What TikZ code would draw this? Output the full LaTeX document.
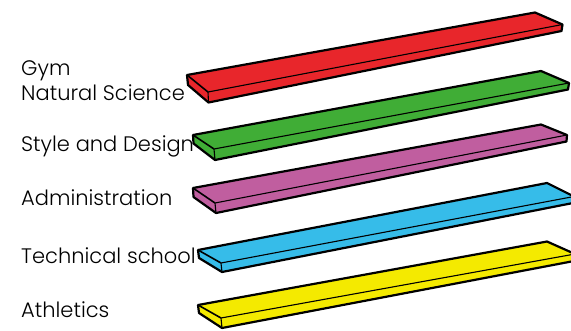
\documentclass[tikz,border=0pt]{standalone}
\usepackage{fontspec}
\setmainfont{Poppins}[UprightFont={* Light}]
\definecolor{slabred}{HTML}{E8262B}
\definecolor{slabgreen}{HTML}{40AD36}
\definecolor{slabpink}{HTML}{C05E9F}
\definecolor{slabcyan}{HTML}{36BCE9}
\definecolor{slabyellow}{HTML}{F4EA00}
% #1 colour, #2 back left, #3 back right, #4 front right, #5 front left, #6 front right low, #7 front left low, #8 back left low
\newcommand{\slab}[8]{%
\fill[#1] #2 -- #3 -- #4 -- #6 -- #7 -- #8 -- cycle;
\draw[line width=1.1pt] #5 -- #4;
\draw[line width=1.1pt] #5 -- #7;
\draw[line width=1.6pt] #2 -- #5;
\draw[line width=2.2pt, line join=round] #2 -- #3 -- #4 -- #6 -- #7 -- #8 -- cycle;
}
\tikzset{room/.style={anchor=base west, inner sep=0, font=\fontsize{21}{25}\selectfont}}

\begin{document}
\begin{tikzpicture}[x=1pt, y=-1pt]
\useasboundingbox (0,0) rectangle (571,330);
\clip (0,0) rectangle (571,330);

\slab{slabred}{(187,75)}{(535,12.5)}{(562.5,24.5)}{(208,92)}{(561.5,31)}{(208.5,102.5)}{(188,85)} %gym
\slab{slabgreen}{(193,135)}{(541,71)}{(569,83)}{(214,149)}{(568,89.5)}{(215,160)}{(193.5,143.5)} %style
\slab{slabpink}{(193,188)}{(541,124.5)}{(567,135)}{(215,203)}{(566.5,141.5)}{(216,213)}{(193.5,197)} %admin
\slab{slabcyan}{(198,250)}{(547,183)}{(574,196.5)}{(221,263)}{(573,203)}{(222,272)}{(199,258)} %tech
\slab{slabyellow}{(198,305)}{(547,241.5)}{(575,254)}{(221,318)}{(574,261)}{(222,328)}{(199,313)} %athletics

\node[room] (gym) at (21,75) {Gym};
\node[room] (science) at (21,100.5) {Natural Science};
\node[room] (design) at (21,151) {Style and Design};
\node[room] (admin) at (21,205) {Administration};
\node[room] (tech) at (21,263) {Technical school};
\node[room] (athletics) at (21,317) {Athletics};

\end{tikzpicture}
\end{document}
